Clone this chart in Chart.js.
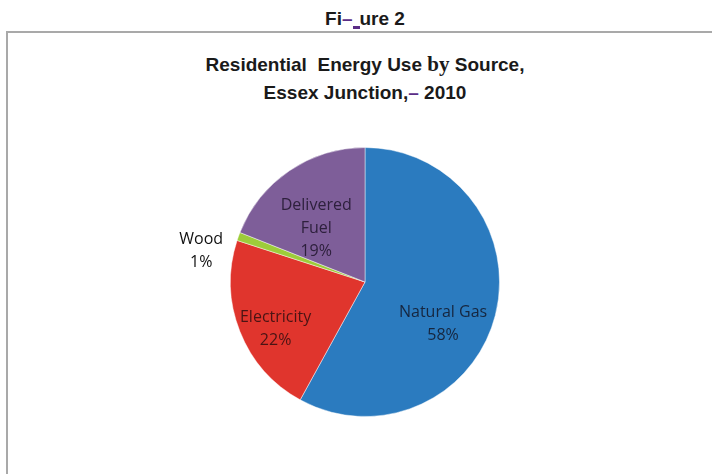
<!DOCTYPE html>
<html>
<head>
<meta charset="utf-8">
<script src="https://cdn.jsdelivr.net/npm/chart.js@4/dist/chart.umd.min.js"></script>
<style>
  body { margin: 0; background: #fff; }
  #page { position: relative; width: 712px; height: 474px; overflow: hidden; }
  .fig, .title {
    position: absolute;
    font-family: "Liberation Sans", Arial, sans-serif;
    font-weight: bold;
    color: #1a1a1a;
    text-align: center;
  }
  .fig { top: 8px; left: 0; width: 730px; font-size: 19px; line-height: 22px; }
  .title { top: 50px; left: 18px; width: 694px; font-size: 19px; line-height: 28px; }
  .serif { font-family: "Liberation Serif", "Times New Roman", serif; font-size: 21px; }
  .pu { color: #5b2d86; }
  .gap { display: inline-block; width: 7px; height: 17px; border-bottom: 3px solid #5b2d86; vertical-align: -4px; }
  .frame {
    position: absolute; left: 6px; top: 31px; right: 0; bottom: 0;
    border-top: 2px solid #a9a9a9; border-left: 2px solid #a9a9a9;
  }
  #myChart { position: absolute; left: 0; top: 0; }
</style>
</head>
<body>
<div id="page">
  <div class="fig">Fi<span class="pu">–</span><span class="gap"></span>ure 2</div>
  <div class="frame"></div>
  <div class="title">Residential&nbsp; Energy Use <span class="serif">by</span> Source,<br>Essex Junction,<span class="pu">–</span> 2010</div>
  <canvas id="myChart" width="712" height="474"></canvas>
</div>
<script>
// energy sources, clockwise from 12 o'clock
const categories = ['Natural Gas', 'Electricity', 'Wood', 'Delivered Fuel'];
const shares = [58, 22, 1, 19];
// how each label is broken into lines
const labelLines = [['Natural Gas'], ['Electricity'], ['Wood'], ['Delivered', 'Fuel']];

const sliceColors = ['#2b7bbf', '#e0352d', '#9dcc3a', '#7e5e99'];
const textColors = ['#16263f', '#4a1414', '#111111', '#2e203d'];
// turn (degrees) and distance (share of radius) for each label, from the slice middle
const labelNudge = [
  { turn: 14, dist: 0.66 },
  { turn: -6, dist: 0.75 },
  { turn: -9, dist: 1.24 },
  { turn: -8, dist: 0.54 }
];

const sliceLabels = {
  id: 'sliceLabels',
  afterDatasetsDraw(chart) {
    const ctx = chart.ctx;
    const arcs = chart.getDatasetMeta(0).data;
    ctx.save();
    ctx.font = '16px "Open Sans", sans-serif';
    ctx.textAlign = 'center';
    ctx.textBaseline = 'middle';
    arcs.forEach((arc, i) => {
      const p = arc.getProps(['x', 'y', 'startAngle', 'endAngle', 'outerRadius'], true);
      const mid = (p.startAngle + p.endAngle) / 2 + labelNudge[i].turn * Math.PI / 180;
      const d = p.outerRadius * labelNudge[i].dist;
      const cx = p.x + Math.cos(mid) * d;
      const cy = p.y + Math.sin(mid) * d;
      const lines = labelLines[i].concat([shares[i] + '%']);
      const lh = 23;
      ctx.fillStyle = textColors[i];
      lines.forEach((t, k) => {
        ctx.fillText(t, cx, cy + (k - (lines.length - 1) / 2) * lh);
      });
    });
    ctx.restore();
  }
};

const data = {
  labels: categories,
  datasets: [{
    data: shares,
    backgroundColor: sliceColors,
    borderColor: 'rgba(255,255,255,0.45)',
    borderWidth: 1
  }]
};

const config = {
  type: 'pie',
  data: data,
  options: {
    responsive: false,
    animation: false,
    layout: { padding: { top: 147, bottom: 57, left: 230, right: 212 } },
    plugins: {
      legend: { display: false },
      tooltip: { enabled: false }
    }
  },
  plugins: [sliceLabels]
};

const myChart = new Chart(document.getElementById('myChart'), config);
</script>
</body>
</html>
